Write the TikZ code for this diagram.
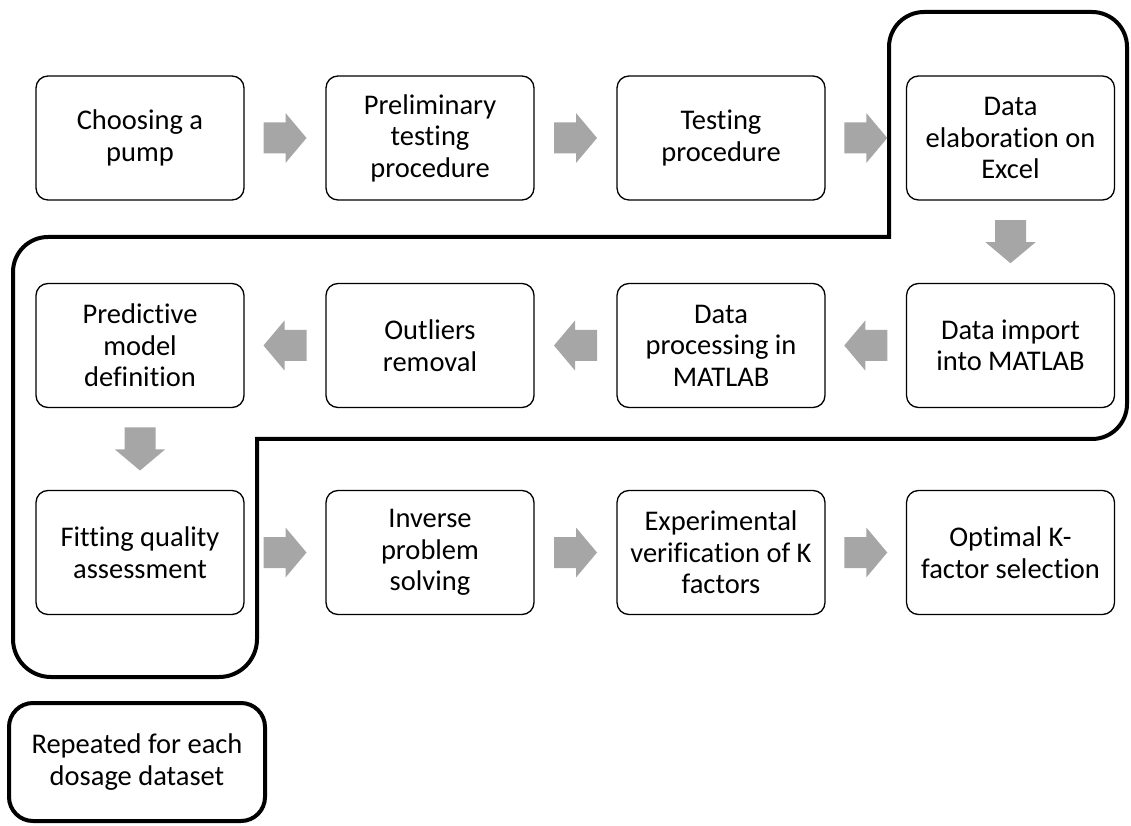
\documentclass[tikz,border=0pt]{standalone}
\usepackage{fontspec}
\setmainfont{Carlito}[RawFeature={-liga;-clig;-calt;-dlig}]
\usetikzlibrary{calc}
\definecolor{arrgray}{HTML}{A6A6A6}
\tikzset{
  x=1pt, y=1pt,
  boxfont/.style={font=\fontsize{28.5}{31.5}\selectfont},
  stepbox/.style={draw=black, line width=1.3pt, rounded corners=12pt, minimum width=208pt, minimum height=124pt, align=center, inner sep=2pt, boxfont},
  outline/.style={draw=black, line width=4pt, line join=miter},
  notebox/.style={draw=black, line width=4pt, rounded corners=24pt, minimum width=256pt, minimum height=118pt, align=center, boxfont},
  pics/barrow/.style={code={\fill[arrgray] (-21.5,-15.5) -- (0.5,-15.5) -- (0.5,-25) -- (21.5,0) -- (0.5,25) -- (0.5,15.5) -- (-21.5,15.5) -- cycle;}}
}
\begin{document}
\begin{tikzpicture}
\useasboundingbox (0,0) rectangle (1131,825);
% outline
\draw[outline] (889,588) -- (889,778) arc[start angle=180,end angle=90,radius=35]
  -- (1092,813) arc[start angle=90,end angle=0,radius=35]
  -- (1127,421) arc[start angle=0,end angle=-90,radius=35]
  -- (257,386) -- (257,186) arc[start angle=0,end angle=-90,radius=38]
  -- (51,148) arc[start angle=270,end angle=180,radius=38]
  -- (13,553) arc[start angle=180,end angle=90,radius=35] -- cycle;
% row 1
\node[stepbox] (b1) at (140,687) {Choosing a\\pump};
\node[stepbox] (b2) at (430,687) {Preliminary\\testing\\procedure};
\node[stepbox] (b3) at (721,687) {Testing\\procedure};
\node[stepbox] (b4) at (1010.5,687) {Data\\elaboration on\\Excel};
% row 2
\node[stepbox] (c4) at (1010.5,479.5) {Data import\\into MATLAB};
\node[stepbox] (c3) at (721,479.5) {Data\\processing in\\MATLAB};
\node[stepbox] (c2) at (430,479.5) {Outliers\\removal};
\node[stepbox] (c1) at (140,479.5) {Predictive\\model\\definition};
% row 3
\node[stepbox] (d1) at (140,272.5) {Fitting quality\\assessment};
\node[stepbox] (d2) at (430,272.5) {Inverse\\problem\\solving};
\node[stepbox] (d3) at (721,272.5) {Experimental\\verification of K\\factors};
\node[stepbox] (d4) at (1010.5,272.5) {Optimal K-\\factor selection};
% note
\node[notebox] (note) at (137,63) {Repeated for each\\dosage dataset};
% arrows
\pic at ($(b1.east)!0.5!(b2.west)$) {barrow};
\pic at ($(b2.east)!0.5!(b3.west)$) {barrow};
\pic at ($(b3.east)!0.5!(b4.west)$) {barrow};
\pic[rotate=-90] at ($(b4.south)!0.5!(c4.north)$) {barrow};
\pic[rotate=180] at ($(c4.west)!0.5!(c3.east)$) {barrow};
\pic[rotate=180] at ($(c3.west)!0.5!(c2.east)$) {barrow};
\pic[rotate=180] at ($(c2.west)!0.5!(c1.east)$) {barrow};
\pic[rotate=-90] at ($(c1.south)!0.5!(d1.north)$) {barrow};
\pic at ($(d1.east)!0.5!(d2.west)$) {barrow};
\pic at ($(d2.east)!0.5!(d3.west)$) {barrow};
\pic at ($(d3.east)!0.5!(d4.west)$) {barrow};
\end{tikzpicture}
\end{document}
